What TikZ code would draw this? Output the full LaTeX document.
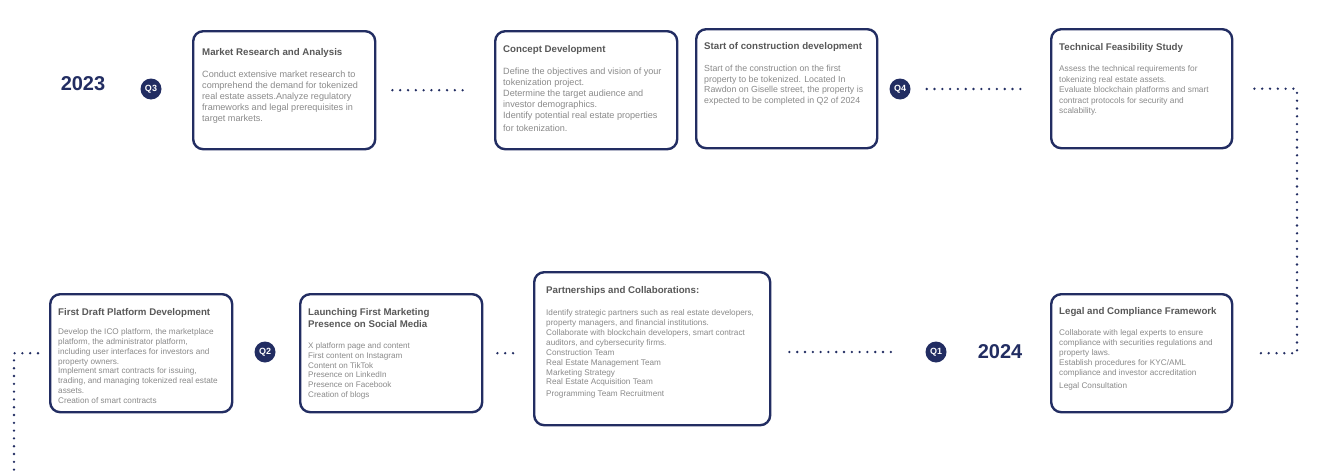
\documentclass[tikz,border=0pt]{standalone}
\usepackage{fontspec}
\setmainfont{Liberation Sans}
\usetikzlibrary{positioning}
\definecolor{navy}{RGB}{34,45,98}
\definecolor{titlegray}{RGB}{88,88,88}
\definecolor{bodygray}{RGB}{138,138,138}

\begin{document}
\begin{tikzpicture}[
    x=1pt, y=-1pt,
    card/.style={rectangle, draw=navy, line width=2.4pt, rounded corners=10pt, fill=white, anchor=north west, inner sep=0pt},
    cardtitle/.style={anchor=north west, inner sep=0pt, text=titlegray, font=\bfseries\fontsize{9.7}{12}\selectfont, align=left},
    cardbody/.style={anchor=north west, inner sep=0pt, text=bodygray, align=left},
    quarter/.style={circle, fill=navy, text=white, minimum size=21pt, inner sep=0pt, font=\bfseries\fontsize{9}{10}\selectfont},
    yearlabel/.style={text=navy, inner sep=0pt, font=\bfseries\fontsize{20}{22}\selectfont},
    dots/.style={draw=navy, line width=2.6pt, line cap=round, dash pattern=on 0pt off 7.8pt}
]
\useasboundingbox[fill=white] (0,0) rectangle (1339,471);

% 2023
\node[yearlabel] (y2023) at (83,84) {2023};
\node[quarter] (q3) at (151,89) {Q3};
\node[quarter] (q4) at (900,89) {Q4};

\node[card, minimum width=182pt, minimum height=118pt] (market) at (192,30) {};
\node[cardtitle, below right=18pt and 10pt of market.north west] (markettitle) {Market Research and Analysis};
\node[cardbody, font=\fontsize{9.1}{11}\selectfont, below right=41pt and 10pt of market.north west] (marketbody)
    {Conduct extensive market research to\\comprehend the demand for tokenized\\real estate assets.Analyze regulatory\\frameworks and legal prerequisites in\\target markets.};

\node[card, minimum width=182pt, minimum height=118pt] (concept) at (494,30) {};
\node[cardtitle, below right=15pt and 9pt of concept.north west] (concepttitle) {Concept Development};
\node[cardbody, font=\fontsize{9.1}{11}\selectfont, below right=38pt and 9pt of concept.north west] (conceptbody)
    {Define the objectives and vision of your\\tokenization project.\\Determine the target audience and\\investor demographics.\\Identify potential real estate properties\\[1.5pt]for tokenization.};

\node[card, minimum width=181pt, minimum height=119pt] (construct) at (695,28) {};
\node[cardtitle, below right=14pt and 9pt of construct.north west] (constructtitle) {Start of construction development};
\node[cardbody, font=\fontsize{8.8}{10.7}\selectfont, below right=37pt and 9pt of construct.north west] (constructbody)
    {Start of the construction on the first\\property to be tokenized. Located In\\Rawdon on Giselle street, the property is\\expected to be completed in Q2 of 2024};

\node[card, minimum width=181pt, minimum height=119pt] (feasible) at (1050,28) {};
\node[cardtitle, below right=15pt and 9pt of feasible.north west] (feasibletitle) {Technical Feasibility Study};
\node[cardbody, font=\fontsize{8.3}{10.5}\selectfont, below right=37.5pt and 9pt of feasible.north west] (feasiblebody)
    {Assess the technical requirements for\\tokenizing real estate assets.\\Evaluate blockchain platforms and smart\\contract protocols for security and\\scalability.};

% 2024
\node[card, minimum width=181pt, minimum height=118pt] (legal) at (1050,293) {};
\node[cardtitle, below right=14pt and 9pt of legal.north west] (legaltitle) {Legal and Compliance Framework};
\node[cardbody, font=\fontsize{8.2}{10.2}\selectfont, below right=36pt and 9pt of legal.north west] (legalbody)
    {Collaborate with legal experts to ensure\\compliance with securities regulations and\\property laws.\\Establish procedures for KYC/AML\\compliance and investor accreditation\\[2pt]Legal Consultation};

\node[yearlabel] (y2024) at (1000,352) {2024};
\node[quarter] (q1) at (936,352) {Q1};

\node[card, minimum width=236pt, minimum height=153pt] (partner) at (533,271) {};
\node[cardtitle, below right=15pt and 13pt of partner.north west] (partnertitle) {Partnerships and Collaborations:};
\node[cardbody, font=\fontsize{8.2}{9.9}\selectfont, below right=38.5pt and 13pt of partner.north west] (partnerbody)
    {Identify strategic partners such as real estate developers,\\property managers, and financial institutions.\\Collaborate with blockchain developers, smart contract\\auditors, and cybersecurity firms.\\Construction Team\\Real Estate Management Team\\Marketing Strategy\\Real Estate Acquisition Team\\[2pt]Programming Team Recruitment};

\node[card, minimum width=182pt, minimum height=118pt] (launch) at (299,293) {};
\node[cardtitle, below right=15pt and 9pt of launch.north west] (launchtitle) {Launching First Marketing\\Presence on Social Media};
\node[cardbody, font=\fontsize{8.1}{9.8}\selectfont, below right=49.5pt and 9pt of launch.north west] (launchbody)
    {X platform page and content\\First content on Instagram\\Content on TikTok\\Presence on LinkedIn\\Presence on Facebook\\Creation of blogs};

\node[quarter] (q2) at (265,352) {Q2};

\node[card, minimum width=182pt, minimum height=118pt] (draft) at (49,293) {};
\node[cardtitle, below right=15pt and 9pt of draft.north west] (drafttitle) {First Draft Platform Development};
\node[cardbody, font=\fontsize{8.2}{9.8}\selectfont, below right=35.5pt and 9pt of draft.north west] (draftbody)
    {Develop the ICO platform, the marketplace\\platform, the administrator platform,\\including user interfaces for investors and\\property owners.\\Implement smart contracts for issuing,\\trading, and managing tokenized real estate\\assets.\\Creation of smart contracts};

\coordinate (turn) at (1297,220);
\coordinate (tail) at (14,480);

% dotted connectors
\draw[dots, shorten <=16pt, shorten >=27pt] (market) -- (concept);
\draw[dots, shorten <=16pt, shorten >=28pt] (q4) -- (q4 -| feasible.west);
\draw[dots, shorten <=21pt, shorten >=21pt] (feasible.east) -| (turn) |- (legal.east);
\draw[dots, shorten <=18pt, shorten >=28pt] (q1 -| partner.east) -- (q1);
\draw[dots, shorten <=14pt, shorten >=20pt] (launch.east) -- (launch.east -| partner.west);
\draw[dots, shorten <=11pt] (draft.west) -| (tail);

\end{tikzpicture}
\end{document}
